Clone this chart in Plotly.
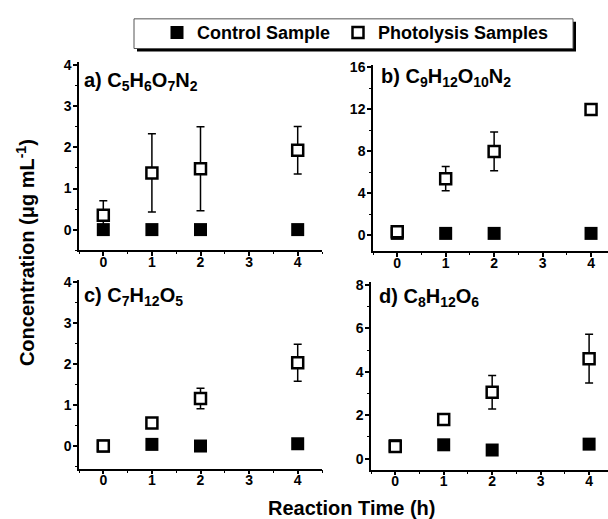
import plotly.graph_objects as go

W, H = 608, 519
FONT = "Liberation Sans"

hours = [0, 1, 2, 4]
x_ticks = [0, 1, 2, 3, 4]

a_control = [0.0, 0.0, 0.0, 0.0]
a_photo = [0.35, 1.38, 1.48, 1.93]
a_photo_err = [0.35, 0.95, 1.02, 0.58]

b_control = [0.19, 0.19, 0.19, 0.19]
b_photo = [0.35, 5.4, 8.0, 12.0]
b_photo_err = [0.3, 1.15, 1.85, 0.3]

c_control = [0.0, 0.04, 0.0, 0.055]
c_photo = [0.0, 0.56, 1.16, 2.03]
c_photo_err = [0.0, 0.0, 0.25, 0.45]

d_control = [0.6, 0.64, 0.4, 0.67]
d_photo = [0.56, 1.8, 3.06, 4.6]
d_photo_err = [0.15, 0.25, 0.77, 1.12]

a_yticks = [0, 1, 2, 3, 4]
b_yticks = [0, 4, 8, 12, 16]
c_yticks = [0, 1, 2, 3, 4]
d_yticks = [0, 2, 4, 6, 8]

panel_titles = [
    "a) C<sub>5</sub>H<sub>6</sub>O<sub>7</sub>N<sub>2</sub>",
    "b) C<sub>9</sub>H<sub>12</sub>O<sub>10</sub>N<sub>2</sub>",
    "c) C<sub>7</sub>H<sub>12</sub>O<sub>5</sub>",
    "d) C<sub>8</sub>H<sub>12</sub>O<sub>6</sub>",
]

panels = [
    (a_control, a_photo, a_photo_err, a_yticks),
    (b_control, b_photo, b_photo_err, b_yticks),
    (c_control, c_photo, c_photo_err, c_yticks),
    (d_control, d_photo, d_photo_err, d_yticks),
]

geom = [
    ((79, 322, 57, 247), [-0.5, 4.5], [-0.5, 4.07], 0.5),
    ((373, 608, 60, 248), [-0.5, 4.35], [-1.5, 16.2], 2),
    ((79, 322, 277, 468), [-0.5, 4.5], [-0.55, 4.05], 0.5),
    ((371, 608, 279, 469), [-0.5, 4.39], [-0.5, 8.14], 1),
]

fig = go.Figure()

for i, ((ctrl, photo, err, yt), (box, xr, yr, ymin)) in enumerate(zip(panels, geom)):
    n = "" if i == 0 else str(i + 1)
    fig.add_trace(go.Scatter(
        x=hours, y=ctrl, mode="markers", name="Control Sample",
        marker=dict(symbol="square", size=13, color="black", line=dict(width=0)),
        xaxis="x" + n, yaxis="y" + n, showlegend=(i == 0), legend="legend",
        cliponaxis=False))
    fig.add_trace(go.Scatter(
        x=hours, y=photo, mode="markers", name="Photolysis Samples",
        marker=dict(symbol="square", size=11, color="white",
                    line=dict(width=2.5, color="black")),
        error_y=dict(type="data", array=err, visible=True, color="black",
                     thickness=1.5, width=4),
        xaxis="x" + n, yaxis="y" + n, showlegend=(i == 0), legend="legend2",
        cliponaxis=False))

    l, r, t, b = box
    axis_common = dict(
        showline=True, linecolor="black", linewidth=1.5, mirror=False,
        ticks="outside", ticklen=4, tickwidth=1.5, tickcolor="black",
        showgrid=False, zeroline=False,
        tickfont=dict(family=FONT, size=14, color="black", weight="bold"),
    )
    fig.layout["xaxis" + n] = dict(
        domain=[l / W, r / W], range=xr, anchor="y" + n,
        tickmode="array", tickvals=x_ticks, ticklabelstandoff=-6,
        minor=dict(ticks="outside", ticklen=2.5, tickwidth=1.2, dtick=0.5,
                   tick0=0, tickcolor="black"),
        **axis_common)
    fig.layout["yaxis" + n] = dict(
        domain=[1 - b / H, 1 - t / H], range=yr, anchor="x" + n,
        tickmode="array", tickvals=yt, ticklabelstandoff=-1,
        minor=dict(ticks="outside", ticklen=2.5, tickwidth=1.2, dtick=ymin,
                   tick0=0, tickcolor="black"),
        **axis_common)

title_pos = [(82, 76), (379, 72), (82, 294), (377, 295)]
annotations = []
for txt, (px, py) in zip(panel_titles, title_pos):
    annotations.append(dict(
        text=txt, x=px / W, y=1 - py / H, xref="paper", yref="paper",
        xanchor="left", yanchor="middle", showarrow=False,
        font=dict(family=FONT, size=20, color="black", weight="bold")))

annotations.append(dict(
    text="Reaction Time (h)", x=351 / W, y=1 - 508 / H, xref="paper", yref="paper",
    xanchor="center", yanchor="middle", showarrow=False,
    font=dict(family=FONT, size=20, color="black", weight="bold")))
annotations.append(dict(
    text="Concentration (μg mL<sup>-1</sup>)", x=25 / W, y=1 - 250 / H,
    xref="paper", yref="paper", xanchor="center", yanchor="middle",
    textangle=-90, showarrow=False,
    font=dict(family=FONT, size=20, color="black", weight="bold")))

shapes = [
    dict(type="rect", xref="paper", yref="paper",
         x0=137 / W, x1=576 / W, y0=1 - 46 / H, y1=1 - 16 / H,
         fillcolor="black", line=dict(width=0), layer="below"),
    dict(type="rect", xref="paper", yref="paper",
         x0=134 / W, x1=573 / W, y0=1 - 43 / H, y1=1 - 13 / H,
         fillcolor="white", line=dict(color="#555555", width=1), layer="below"),
]

legend_font = dict(family=FONT, size=18, color="black", weight="bold")
fig.update_layout(
    width=W, height=H, margin=dict(l=0, r=0, t=0, b=0),
    paper_bgcolor="white", plot_bgcolor="rgba(0,0,0,0)",
    annotations=annotations, shapes=shapes,
    legend=dict(orientation="h", x=157 / W, y=1 - 27 / H, xanchor="left",
                yanchor="middle", bgcolor="rgba(0,0,0,0)", borderwidth=0,
                font=legend_font),
    legend2=dict(orientation="h", x=338 / W, y=1 - 27 / H, xanchor="left",
                 yanchor="middle", bgcolor="rgba(0,0,0,0)", borderwidth=0,
                 font=legend_font),
)

fig.write_html(
    "out.html",
    config={"displayModeBar": False},
    post_script="document.body.style.margin='0';document.body.style.padding='0';"
                "document.body.style.overflow='hidden';",
)
